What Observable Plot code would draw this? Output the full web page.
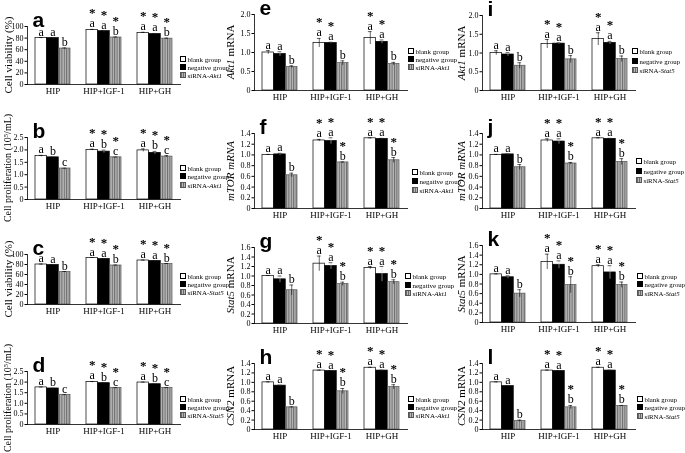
<!DOCTYPE html>
<html><head><meta charset="utf-8">
<script src="https://cdn.jsdelivr.net/npm/d3@7"></script>
<script src="https://cdn.jsdelivr.net/npm/@observablehq/plot@0.6"></script>
<style>
body{margin:0;background:#fff;}
#wrap{position:relative;width:685px;height:453px;overflow:hidden;font-family:"Liberation Serif",serif;color:#000;filter:grayscale(1);}
.panel{position:absolute;}
.ylab{position:absolute;white-space:nowrap;font-size:11px;transform:translate(-50%,-50%) rotate(-90deg);line-height:1;}
.legend{position:absolute;font-size:7px;white-space:nowrap;}
.sw{display:inline-block;width:4px;height:4px;border:0.7px solid #000;margin-right:1.5px;vertical-align:0;}
</style></head>
<body>
<svg width="0" height="0" style="position:absolute"><defs>
<pattern id="stripe" width="2.4" height="4" patternUnits="userSpaceOnUse"><rect width="2.4" height="4" fill="#b8b8b8"/><rect width="1" height="4" fill="#6a6a6a"/></pattern>
</defs></svg>
<div id="wrap"></div>
<script>
// ---------- data ----------
const categories = ["HIP", "HIP+IGF-1", "HIP+GH"];
const groups = ["blank group", "negative group", "siRNA"];

const ticksViability = [0, 20, 40, 60, 80, 100];
const ticksProlif = [0, 0.5, 1.0, 1.5, 2.0, 2.5];
const ticks20 = [0, 0.5, 1.0, 1.5, 2.0];
const ticks14 = [0, 0.2, 0.4, 0.6, 0.8, 1.0, 1.2, 1.4];
const ticks16 = [0, 0.2, 0.4, 0.6, 0.8, 1.0, 1.2, 1.4, 1.6];

// rows = categories, columns = groups
const valA = [[80, 80, 62], [94, 92, 81], [89, 87, 79]];
const errA = [[1, 1, 1], [1, 1, 1], [1, 1, 1]];
const letA = [["a","a","b"], ["a","a","b"], ["a","a","b"]];
const starA = [[0,0,0], [1,1,1], [1,1,1]];

const valB = [[1.75, 1.70, 1.25], [2.00, 1.93, 1.70], [1.98, 1.88, 1.73]];
const errB = [[0.03, 0.01, 0.01], [0.03, 0.06, 0.01], [0.06, 0.06, 0.04]];
const letB = [["a","b","c"], ["a","b","c"], ["a","b","c"]];
const starB = [[0,0,0], [1,1,1], [1,1,1]];

const valC = [[80, 79, 65], [93, 91, 78], [88, 87, 81]];
const errC = [[1, 1, 1], [1, 1, 1], [1, 1, 1]];
const letC = [["a","a","b"], ["a","a","b"], ["a","a","b"]];
const starC = [[0,0,0], [1,1,1], [1,1,1]];

const valD = [[1.75, 1.70, 1.40], [2.00, 1.95, 1.73], [1.98, 1.90, 1.73]];
const errD = [[0.02, 0.01, 0.01], [0.03, 0.02, 0.01], [0.02, 0.01, 0.01]];
const letD = [["a","b","c"], ["a","b","c"], ["a","b","c"]];
const starD = [[0,0,0], [1,1,1], [1,1,1]];

const valE = [[1.00, 0.96, 0.62], [1.25, 1.25, 0.72], [1.38, 1.28, 0.70]];
const errE = [[0.05, 0.06, 0.03], [0.12, 0.02, 0.06], [0.17, 0.05, 0.04]];
const letE = [["a","a","b"], ["a","a","b"], ["a","a","b"]];
const starE = [[0,0,0], [1,1,0], [1,1,0]];

const valF = [[1.00, 1.01, 0.62], [1.27, 1.26, 0.86], [1.31, 1.30, 0.90]];
const errF = [[0.01, 0.02, 0.04], [0.02, 0.06, 0.01], [0.01, 0.01, 0.05]];
const letF = [["a","a","b"], ["a","a","b"], ["a","a","b"]];
const starF = [[0,0,0], [1,1,1], [1,1,1]];

const valG = [[1.00, 0.93, 0.70], [1.26, 1.21, 0.83], [1.17, 1.04, 0.87]];
const errG = [[0.01, 0.07, 0.11], [0.16, 0.07, 0.04], [0.03, 0.16, 0.05]];
const letG = [["a","a","b"], ["a","a","b"], ["a","a","b"]];
const starG = [[0,0,0], [1,1,1], [1,1,1]];

const valH = [[1.00, 0.93, 0.47], [1.25, 1.24, 0.81], [1.31, 1.25, 0.90]];
const errH = [[0.01, 0.01, 0.01], [0.01, 0.01, 0.06], [0.01, 0.01, 0.05]];
const letH = [["a","a","b"], ["a","a","b"], ["a","a","b"]];
const starH = [[0,0,0], [1,1,1], [1,1,1]];

const valI = [[1.00, 0.96, 0.66], [1.24, 1.25, 0.83], [1.37, 1.27, 0.84]];
const errI = [[0.06, 0.05, 0.08], [0.12, 0.02, 0.10], [0.17, 0.04, 0.08]];
const letI = [["a","a","b"], ["a","a","b"], ["a","a","b"]];
const starI = [[0,0,0], [1,1,0], [1,1,0]];

const valJ = [[1.00, 1.01, 0.77], [1.27, 1.25, 0.84], [1.31, 1.30, 0.87]];
const errJ = [[0.01, 0.01, 0.05], [0.03, 0.05, 0.02], [0.01, 0.01, 0.06]];
const letJ = [["a","a","b"], ["a","a","b"], ["a","a","b"]];
const starJ = [[0,0,0], [1,1,1], [1,1,1]];

const valK = [[1.00, 0.94, 0.60], [1.26, 1.20, 0.78], [1.17, 1.04, 0.78]];
const errK = [[0.01, 0.03, 0.08], [0.16, 0.08, 0.17], [0.03, 0.14, 0.06]];
const letK = [["a","a","b"], ["a","a","b"], ["a","a","b"]];
const starK = [[0,0,0], [1,1,1], [1,1,1]];

const valL = [[1.00, 0.92, 0.18], [1.25, 1.24, 0.47], [1.31, 1.25, 0.50]];
const errL = [[0.01, 0.01, 0.02], [0.01, 0.01, 0.04], [0.01, 0.01, 0.01]];
const letL = [["a","a","b"], ["a","a","b"], ["a","a","b"]];
const starL = [[0,0,0], [1,1,1], [1,1,1]];

// ---------- panels (labels + layout) ----------
const sup5 = "10<sup style='font-size:6.5px;vertical-align:3px'>5</sup>";
const panels = [
  {id:"a", val:valA, err:errA, let:letA, star:starA, max:100, ticks:ticksViability, ylab:"Cell viability (%)", ys:11, si:"Akt1", ax:27, top:26, zero:84, lx:180, ly:60, ls:8},
  {id:"b", val:valB, err:errB, let:letB, star:starB, max:2.5, ticks:ticksProlif, ylab:"Cell proliferation (" + sup5 + "/mL)", ys:10, si:"Akt1", ax:27, top:137, zero:199, lx:180, ly:169, ls:8.5},
  {id:"c", val:valC, err:errC, let:letC, star:starC, max:100, ticks:ticksViability, ylab:"Cell viability (%)", ys:11, si:"Stat5", ax:27, top:254, zero:304, lx:180, ly:277, ls:8},
  {id:"d", val:valD, err:errD, let:letD, star:starD, max:2.5, ticks:ticksProlif, ylab:"Cell proliferation (" + sup5 + "/mL)", ys:10, si:"Stat5", ax:27, top:371, zero:424, lx:180, ly:400, ls:8},
  {id:"e", val:valE, err:errE, let:letE, star:starE, max:2.0, ticks:ticks20, ylab:"<i>Akt1</i> mRNA", ys:11, si:"Akt1", ax:254, top:14, zero:90, lx:408, ly:52, ls:8},
  {id:"f", val:valF, err:errF, let:letF, star:starF, max:1.4, ticks:ticks14, ylab:"<i>mTOR mRNA</i>", ys:11, si:"Akt1", ax:254, top:133, zero:208, lx:412, ly:173, ls:9},
  {id:"g", val:valG, err:errG, let:letG, star:starG, max:1.6, ticks:ticks16, ylab:"<i>Stat5</i> mRNA", ys:11, si:"Akt1", ax:254, top:247, zero:323, lx:405, ly:277, ls:7.5},
  {id:"h", val:valH, err:errH, let:letH, star:starH, max:1.4, ticks:ticks14, ylab:"<i>CSN2</i> mRNA", ys:11, si:"Akt1", ax:254, top:363, zero:429, lx:408, ly:400, ls:8},
  {id:"i", val:valI, err:errI, let:letI, star:starI, max:2.0, ticks:ticks20, ylab:"<i>Akt1</i> mRNA", ys:11, si:"Stat5", ax:482, top:15, zero:90, lx:632, ly:52, ls:9.5},
  {id:"j", val:valJ, err:errJ, let:letJ, star:starJ, max:1.4, ticks:ticks14, ylab:"<i>mTOR mRNA</i>", ys:11, si:"Stat5", ax:482, top:133, zero:208, lx:636, ly:162, ls:9.5},
  {id:"k", val:valK, err:errK, let:letK, star:starK, max:1.6, ticks:ticks16, ylab:"<i>Stat5</i> mRNA", ys:11, si:"Stat5", ax:482, top:245, zero:322, lx:637, ly:277, ls:8.5},
  {id:"l", val:valL, err:errL, let:letL, star:starL, max:1.4, ticks:ticks14, ylab:"<i>CSN2</i> mRNA", ys:11, si:"Stat5", ax:482, top:363, zero:429, lx:637, ly:400, ls:8.5},
];
const ylabX = {27: 8, 254: 230, 482: 461};

const fills = ["white", "black", "url(#stripe)"];
const strokes = ["black", "black", "#555"];
const W = 153, mL = 28, mR = 4, mT = 30, mB = 16;
const pIn = 0.31, pOut = 0.155;
const step = W / (categories.length - pIn + 2 * pOut);
const bw = step * (1 - pIn);
const sub = bw / 3;

const wrap = document.getElementById("wrap");

function fmt(max) {
  return d => d === 0 ? "0" : (max > 10 ? String(d) : d.toFixed(1));
}

for (const p of panels) {
  const rows = [];
  categories.forEach((cat, i) => groups.forEach((g, k) => rows.push({
    cat, group: g, k, value: p.val[i][k], err: p.err[i][k], letter: p.let[i][k], star: p.star[i][k]
  })));
  const marks = [];
  for (let k = 0; k < 3; k++) {
    const rk = rows.filter(d => d.k === k);
    const off = (k - 1) * sub;
    marks.push(Plot.barY(rk, {x: "cat", y: "value", fill: fills[k], stroke: strokes[k], strokeWidth: 0.7,
      insetLeft: k * sub, insetRight: (2 - k) * sub}));
    marks.push(Plot.ruleX(rk, {x: "cat", y1: d => d.value - d.err, y2: d => d.value + d.err, dx: off, stroke: k === 1 ? "#ccc" : "black", strokeWidth: 0.6}));
    marks.push(Plot.tickY(rk, {x: "cat", y: d => d.value + d.err, dx: off, insetLeft: bw / 2 - 2, insetRight: bw / 2 - 2, stroke: "black", strokeWidth: 0.6}));
    marks.push(Plot.text(rk, {x: "cat", y: d => d.value + d.err, text: "letter", dx: off, dy: -2, lineAnchor: "bottom", fontSize: 12, fontFamily: "Liberation Serif"}));
    marks.push(Plot.text(rk.filter(d => d.star), {x: "cat", y: d => d.value + d.err, text: () => "*", dx: off, dy: -12, lineAnchor: "bottom", fontSize: 13, fontWeight: "bold", fontFamily: "Liberation Serif"}));
  }
  marks.push(Plot.frame({anchor: "left", strokeWidth: 0.8}));
  marks.push(Plot.frame({anchor: "bottom", strokeWidth: 0.8}));
  marks.push(Plot.axisY({ticks: p.ticks, tickFormat: fmt(p.max), tickSize: 2.5, tickPadding: 1.5, fontSize: 8, label: null}));
  marks.push(Plot.axisX({tickSize: 0, tickPadding: 3, fontSize: 9, label: null}));
  marks.push(Plot.text([p.id], {frameAnchor: "top-left", textAnchor: "start", dx: 5, lineAnchor: "bottom", fontSize: 21, fontWeight: "bold", fontFamily: "Liberation Sans"}));

  const H = mT + (p.zero - p.top) + mB;
  const chart = Plot.plot({
    width: mL + W + mR, height: H,
    marginLeft: mL, marginRight: mR, marginTop: mT, marginBottom: mB,
    style: {background: "none", color: "black", fontFamily: "Liberation Serif", fontSize: "8px", overflow: "visible"},
    x: {type: "band", domain: categories, paddingInner: pIn, paddingOuter: pOut},
    y: {domain: [0, p.max]},
    marks
  });
  chart.classList.add("panel");
  chart.style.left = (p.ax - mL) + "px";
  chart.style.top = (p.top - mT) + "px";
  wrap.appendChild(chart);

  const yl = document.createElement("div");
  yl.className = "ylab";
  yl.innerHTML = p.ylab;
  yl.style.fontSize = p.ys + "px";
  yl.style.left = ylabX[p.ax] + "px";
  yl.style.top = ((p.top + p.zero) / 2) + "px";
  wrap.appendChild(yl);

  const lg = document.createElement("div");
  lg.className = "legend";
  lg.style.left = p.lx + "px";
  lg.style.top = (p.ly - p.ls / 2) + "px";
  lg.style.lineHeight = p.ls + "px";
  if (p.ax > 400) lg.style.fontSize = "6.8px";
  const swStyles = ["background:#fff", "background:#000", "background:repeating-linear-gradient(90deg,#6a6a6a 0 1px,#b8b8b8 1px 2.4px);border-color:#555"];
  const names = [groups[0], groups[1], "siRNA-<i>" + p.si + "</i>"];
  lg.innerHTML = names.map((n, k) => `<div><span class="sw" style="${swStyles[k]}"></span>${n}</div>`).join("");
  wrap.appendChild(lg);
}
</script>
</body></html>
